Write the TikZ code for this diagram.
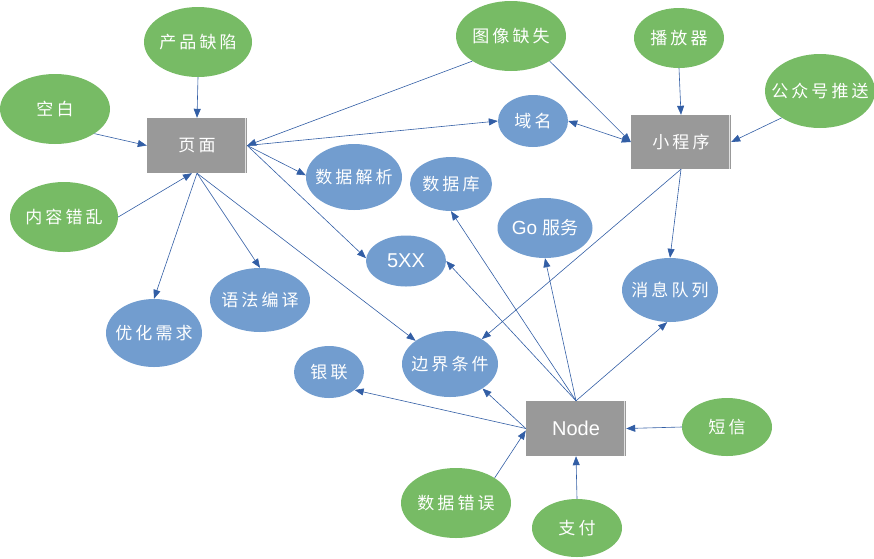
\documentclass[tikz,border=0pt]{standalone}
\usepackage{fontspec}
\setmainfont{Liberation Sans}
\newfontfamily\cjk[LetterSpace=18]{Noto Sans CJK SC}
\newfontfamily\cjkplain{Noto Sans CJK SC}
\usetikzlibrary{shapes.geometric,arrows.meta}
\definecolor{gfill}{RGB}{119,187,101}
\definecolor{bfill}{RGB}{114,157,207}
\definecolor{rfill}{RGB}{153,153,153}
\definecolor{edgec}{RGB}{50,94,165}
\newcommand\mklabel[1]{\makebox[0pt][c]{#1}}
\tikzset{
  cjktext/.style={text=white, font=\cjk\fontsize{17pt}{19pt}\selectfont},
  latintext/.style={text=white, font=\fontsize{20pt}{22pt}\selectfont},
  greennode/.style={ellipse, fill=gfill, draw=none, inner sep=0pt, cjktext},
  bluenode/.style={ellipse, fill=bfill, draw=none, inner sep=0pt, cjktext},
  boxnode/.style={rectangle, fill=rfill, draw=none, inner sep=0pt,
    minimum width=100pt, minimum height=55pt, cjktext},
  arr/.style={draw=edgec, line width=0.6pt, -{Triangle[length=9pt,width=7pt]}},
  arrboth/.style={draw=edgec, line width=0.6pt, {Triangle[length=9pt,width=7pt]}-{Triangle[length=9pt,width=7pt]}},
  edgeline/.style={draw=white!70!rfill, line width=1pt}
}
\begin{document}
\begin{tikzpicture}[x=1pt,y=-1pt]
\useasboundingbox (0,0) rectangle (874,558);

% boxes
\node[boxnode] (p) at (197,145.5) {\mklabel{页面}};
\node[boxnode, minimum height=54pt] (r2) at (681,142) {\mklabel{小程序}};
\node[boxnode, latintext] (n) at (576,428.5) {\mklabel{Node}};
\draw[edgeline] ([xshift=-1.5pt]p.north east) -- ([xshift=-1.5pt]p.south east);
\draw[edgeline] ([xshift=-1.5pt]r2.north east) -- ([xshift=-1.5pt]r2.south east);
\draw[edgeline] ([xshift=-1.5pt]n.north east) -- ([xshift=-1.5pt]n.south east);

% green ellipses
\node[greennode, minimum width=108pt, minimum height=70pt] (g1) at (198,42) {\mklabel{产品缺陷}};
\node[greennode, minimum width=110pt, minimum height=70pt] (g2) at (55,109) {\mklabel{空白}};
\node[greennode, minimum width=108pt, minimum height=70pt] (g3) at (64,217) {\mklabel{内容错乱}};
\node[greennode, minimum width=110pt, minimum height=70pt] (g4) at (511,36) {\mklabel{图像缺失}};
\node[greennode, minimum width=90pt, minimum height=60pt] (g5) at (679,38) {\mklabel{播放器}};
\node[greennode, minimum width=110pt, minimum height=74pt] (g6) at (820,91) {\mklabel{公众号推送}};
\node[greennode, minimum width=90pt, minimum height=58pt] (g7) at (727,427) {\mklabel{短信}};
\node[greennode, minimum width=90pt, minimum height=58pt] (g8) at (577,528) {\mklabel{支付}};
\node[greennode, minimum width=110pt, minimum height=70pt] (g9) at (456,503) {\mklabel{数据错误}};

% blue ellipses
\node[bluenode, minimum width=96pt, minimum height=66pt] (b1) at (354,177) {\mklabel{数据解析}};
\node[bluenode, minimum width=82pt, minimum height=54pt] (b2) at (451,184) {\mklabel{数据库}};
\node[bluenode, minimum width=80pt, minimum height=51pt, latintext] (b3) at (406,261) {\mklabel{5XX}};
\node[bluenode, minimum width=70pt, minimum height=52pt] (b4) at (533,121) {\mklabel{域名}};
\node[bluenode, minimum width=95pt, minimum height=60pt] (b5) at (545,228) {\mklabel{{\fontspec{Liberation Sans}\fontsize{19pt}{21pt}\selectfont Go}\hspace{5pt}{\cjkplain\fontsize{18pt}{20pt}\selectfont 服务}}};
\node[bluenode, minimum width=96pt, minimum height=64pt] (b6) at (670,290) {\mklabel{消息队列}};
\node[bluenode, minimum width=100pt, minimum height=64pt] (b7) at (260,300) {\mklabel{语法编译}};
\node[bluenode, minimum width=96pt, minimum height=68pt] (b8) at (154,333) {\mklabel{优化需求}};
\node[bluenode, minimum width=70pt, minimum height=52pt] (b9) at (329,372) {\mklabel{银联}};
\node[bluenode, minimum width=96pt, minimum height=66pt] (b10) at (450,364) {\mklabel{边界条件}};

% connectors
\draw[arr] (g1.south) -- (p.north);
\draw[arr] (g2.-32) -- (p.west);
\draw[arr] (g3.east) -- ([xshift=-5pt]p.south);
\draw[arr] (p.south) -- (b8.north);
\draw[arr] (p.south) -- (b7.north);
\draw[arr] (p.south) -- (b10.146);
\draw[arr] (p.east) -- (b3.176);
\draw[arr] (p.east) -- (b1.178);
\draw[arr] (g4.213) -- (p.east);
\draw[arr] (p.east) -- (b4.west);
\draw[arr] (g4.-33) -- (r2.west);
\draw[arr] (g5.south) -- (r2.north);
\draw[arr] (g6.215) -- (r2.east);
\draw[arrboth] (b4.east) -- (r2.west);
\draw[arr] (r2.south) -- (b6.north);
\draw[arr] (r2.south) -- (b10.38);
\draw[arr] (n.north) -- (b2.south);
\draw[arr] (n.north) -- (b3.east);
\draw[arr] (n.north) -- (b5.south);
\draw[arr] (n.north) -- (b6.-95);
\draw[arr] (n.west) -- (b10.-37);
\draw[arr] (n.west) -- (b9.-35);
\draw[arr] (g9.33) -- ([yshift=-2pt]n.west);
\draw[arr] (g8.north) -- (n.south);
\draw[arr] (g7.west) -- (n.east);
\end{tikzpicture}
\end{document}
